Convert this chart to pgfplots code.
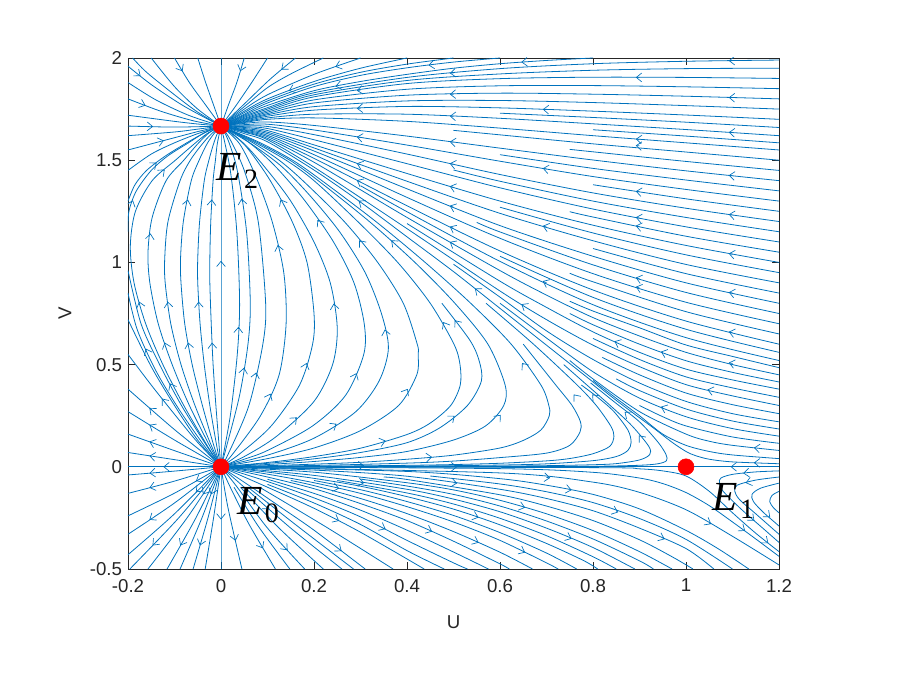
\documentclass[border=0pt]{standalone}
\usepackage{pgfplots}
\pgfplotsset{compat=1.18}
\usepackage{fontspec}
\setmainfont{Liberation Sans}
\newfontfamily\tnr{Liberation Serif}
\usetikzlibrary{arrows.meta}
\definecolor{mblue}{rgb}{0,0.447,0.741}
\pgfplotsset{sl/.style={mblue, line width=0.6pt, smooth, no markers}}
\newcommand{\SL}[1]{\addplot[sl] coordinates {#1};}
\begin{document}
\begin{tikzpicture}
\path[use as bounding box] (-96pt,-81.75pt) rectangle (594pt,426.75pt);
\begin{axis}[scale only axis, width=488.25pt, height=383.25pt, at={(0,0)}, anchor=south west,
  xmin=-0.2, xmax=1.2, ymin=-0.5, ymax=2,
  xtick={-0.2,0,0.2,0.4,0.6,0.8,1,1.2}, xticklabels={-0.2,0,0.2,0.4,0.6,0.8,1,1.2},
  ytick={-0.5,0,0.5,1,1.5,2}, yticklabels={-0.5,0,0.5,1,1.5,2},
  tick align=inside, major tick length=5pt,
  tick style={black!85, line width=0.5pt}, axis line style={black!85, line width=0.5pt},
  ticklabel style={font=\fontsize{14}{16}\selectfont, text=black!85},
  xticklabel style={yshift=-4pt}, yticklabel style={xshift=-1pt},
  label style={font=\fontsize{14}{16}\selectfont, text=black!85},
  xlabel={U}, ylabel={V},
  xlabel style={at={(axis description cs:0.5,-0.104)}, anchor=center},
  ylabel style={at={(axis description cs:-0.097,0.5)}, anchor=center},
  clip=true]
% E0 -> left edge
\SL{(0,0)(-0.2,0)}
\SL{(0,0)(-0.1,0.035)(-0.2,0.07)}
\SL{(0,0)(-0.1,0.079)(-0.2,0.16)}
\SL{(0,0)(-0.1,0.131)(-0.2,0.27)}
\SL{(0,0)(-0.1,0.182)(-0.2,0.38)}
\SL{(0,0)(-0.05,0.119)(-0.1,0.257)(-0.15,0.4)(-0.2,0.55)}
\SL{(0,0)(-0.05,0.13)(-0.1,0.3)(-0.15,0.49)(-0.2,0.72)}
\SL{(0,0)(-0.035,0.1)(-0.09,0.28)(-0.14,0.47)(-0.18,0.67)(-0.2,0.85)}
\SL{(0,0)(-0.03,0.1)(-0.085,0.3)(-0.132,0.5)(-0.172,0.7)(-0.2,0.96)}
% lens E0 -> E2 (U<0)
\SL{(0,0)(-0.03,0.105)(-0.08,0.3)(-0.125,0.5)(-0.162,0.7)(-0.187,0.9)(-0.195,1.08)(-0.184,1.25)(-0.148,1.4)(-0.098,1.5)(-0.06,1.575)(-0.03,1.63)(0,1.667)}
\SL{(0,0)(-0.025,0.105)(-0.068,0.3)(-0.105,0.5)(-0.135,0.7)(-0.153,0.9)(-0.157,1.05)(-0.148,1.22)(-0.118,1.4)(-0.08,1.5)(-0.05,1.58)(-0.025,1.635)(0,1.667)}
\SL{(0,0)(-0.02,0.1)(-0.056,0.3)(-0.086,0.5)(-0.108,0.7)(-0.12,0.9)(-0.121,1.02)(-0.114,1.2)(-0.088,1.4)(-0.066,1.5)(-0.04,1.58)(-0.02,1.63)(0,1.667)}
\SL{(0,0)(-0.015,0.1)(-0.04,0.3)(-0.062,0.5)(-0.078,0.7)(-0.086,0.9)(-0.087,1.02)(-0.081,1.2)(-0.064,1.4)(-0.047,1.5)(-0.03,1.58)(-0.015,1.63)(0,1.667)}
\SL{(0,0)(-0.009,0.1)(-0.024,0.3)(-0.036,0.5)(-0.045,0.7)(-0.05,0.9)(-0.05,1.02)(-0.046,1.2)(-0.036,1.4)(-0.026,1.5)(-0.016,1.58)(-0.008,1.63)(0,1.667)}
\SL{(0,0)(-0.004,0.1)(-0.011,0.3)(-0.017,0.5)(-0.021,0.7)(-0.024,0.9)(-0.024,1.02)(-0.022,1.2)(-0.017,1.4)(-0.012,1.5)(-0.008,1.58)(0,1.667)}
\SL{(0,0)(0,1.667)}
% left edge -> E2
\SL{(-0.2,1.15)(-0.198,1.25)(-0.182,1.35)(-0.15,1.45)(-0.115,1.52)(-0.07,1.585)(-0.035,1.635)(0,1.667)}
\SL{(-0.2,1.3)(-0.185,1.38)(-0.16,1.45)(-0.12,1.52)(-0.07,1.59)(-0.03,1.64)(0,1.667)}
\SL{(-0.2,1.45)(-0.15,1.53)(-0.1,1.585)(-0.05,1.63)(0,1.667)}
\SL{(-0.2,1.55)(-0.15,1.58)(-0.1,1.61)(-0.05,1.64)(0,1.667)}
\SL{(-0.2,1.62)(-0.1,1.638)(-0.05,1.652)(0,1.667)}
\SL{(-0.2,1.667)(-0.1,1.662)(0,1.667)}
\SL{(-0.2,1.72)(-0.1,1.69)(-0.05,1.677)(0,1.667)}
\SL{(-0.2,1.8)(-0.13,1.74)(-0.06,1.693)(0,1.667)}
\SL{(-0.2,1.88)(-0.14,1.795)(-0.07,1.72)(0,1.667)}
\SL{(-0.2,1.96)(-0.15,1.87)(-0.08,1.765)(0,1.667)}
% top edge -> E2
\SL{(-0.19,2)(-0.16,1.93)(-0.1,1.82)(-0.05,1.735)(0,1.667)}
\SL{(-0.15,2)(-0.1,1.86)(-0.05,1.75)(0,1.667)}
\SL{(-0.1,2)(-0.068,1.88)(-0.033,1.77)(0,1.667)}
\SL{(-0.05,2)(-0.033,1.88)(-0.016,1.77)(0,1.667)}
\SL{(0,2)(0,1.667)}
\SL{(0.05,2)(0.034,1.88)(0.016,1.77)(0,1.667)}
\SL{(0.1,2)(0.066,1.88)(0.03,1.76)(0,1.667)}
\SL{(0.16,2)(0.105,1.895)(0.05,1.775)(0,1.667)}
\SL{(0.22,2)(0.15,1.922)(0.1,1.855)(0.05,1.762)(0,1.667)}
\SL{(0.3,2)(0.2,1.92)(0.1,1.82)(0.05,1.75)(0,1.667)}
\SL{(0.4,2)(0.3,1.95)(0.2,1.885)(0.1,1.8)(0.05,1.74)(0,1.667)}
\SL{(0.5,2)(0.4,1.97)(0.3,1.93)(0.2,1.872)(0.1,1.79)(0.05,1.733)(0,1.667)}
\SL{(0.6,2)(0.5,1.98)(0.4,1.952)(0.3,1.915)(0.2,1.86)(0.1,1.78)(0.05,1.725)(0,1.667)}
\SL{(0.8,2)(0.7,1.988)(0.6,1.972)(0.5,1.95)(0.4,1.92)(0.3,1.885)(0.2,1.84)(0.1,1.768)(0.05,1.72)(0,1.667)}
% right edge -> E2
\SL{(1.2,1.99)(1.0,1.984)(0.8,1.972)(0.6,1.948)(0.4,1.905)(0.2,1.83)(0.1,1.757)(0.05,1.715)(0,1.667)}
\SL{(1.2,1.95)(1.0,1.948)(0.8,1.94)(0.6,1.922)(0.4,1.89)(0.2,1.82)(0.1,1.75)(0.05,1.71)(0,1.667)}
\SL{(1.2,1.9)(1.0,1.905)(0.8,1.906)(0.6,1.899)(0.4,1.875)(0.2,1.81)(0.1,1.742)(0.05,1.705)(0,1.667)}
\SL{(1.2,1.85)(1.0,1.859)(0.8,1.865)(0.6,1.864)(0.4,1.847)(0.2,1.795)(0.1,1.735)(0.05,1.701)(0,1.667)}
\SL{(1.2,1.8)(1.0,1.813)(0.8,1.823)(0.6,1.828)(0.4,1.818)(0.2,1.78)(0.1,1.728)(0.05,1.697)(0,1.667)}
\SL{(1.2,1.75)(1.0,1.767)(0.8,1.782)(0.6,1.792)(0.4,1.79)(0.2,1.762)(0.1,1.722)(0.05,1.694)(0,1.667)}
\SL{(1.2,1.7)(1.0,1.721)(0.8,1.74)(0.6,1.756)(0.4,1.763)(0.2,1.745)(0.1,1.715)(0.05,1.69)(0,1.667)}
\SL{(1.2,1.62)(1.0,1.65)(0.8,1.678)(0.6,1.705)(0.4,1.725)(0.2,1.725)(0.1,1.707)(0.05,1.687)(0,1.667)}
\SL{(1.2,1.55)(1.0,1.585)(0.8,1.62)(0.6,1.657)(0.4,1.69)(0.2,1.707)(0.1,1.70)(0.05,1.684)(0,1.667)}
\SL{(1.2,1.4)(1.0,1.448)(0.8,1.501)(0.6,1.559)(0.4,1.618)(0.2,1.67)(0.1,1.687)(0.05,1.68)(0,1.667)}
\SL{(1.2,1.3)(1.0,1.357)(0.8,1.42)(0.6,1.495)(0.4,1.574)(0.2,1.648)(0.1,1.676)(0.05,1.674)(0,1.667)}
\SL{(1.2,1.2)(1.0,1.265)(0.8,1.34)(0.6,1.43)(0.4,1.53)(0.2,1.625)(0.1,1.665)(0.05,1.668)(0,1.667)}
\SL{(1.2,1.1)(1.0,1.174)(0.8,1.261)(0.6,1.365)(0.4,1.483)(0.2,1.6)(0.1,1.655)(0.05,1.664)(0,1.667)}
\SL{(1.2,1.0)(1.0,1.083)(0.8,1.182)(0.6,1.3)(0.4,1.435)(0.2,1.575)(0.1,1.645)(0.05,1.66)(0,1.667)}
\SL{(1.2,0.9)(1.0,0.99)(0.8,1.106)(0.6,1.24)(0.4,1.397)(0.2,1.56)(0.1,1.637)(0.05,1.655)(0,1.667)}
\SL{(1.2,0.8)(1.0,0.9)(0.8,1.03)(0.6,1.18)(0.4,1.36)(0.2,1.545)(0.1,1.63)(0.05,1.65)(0,1.667)}
\SL{(1.2,0.7)(1.0,0.805)(0.8,0.945)(0.6,1.118)(0.4,1.318)(0.2,1.527)(0.1,1.622)(0.05,1.647)(0,1.667)}
\SL{(1.2,0.6)(1.0,0.713)(0.8,0.865)(0.6,1.056)(0.4,1.277)(0.2,1.509)(0.1,1.615)(0.05,1.643)(0,1.667)}
\SL{(1.2,0.52)(1.0,0.632)(0.8,0.793)(0.6,1.005)(0.4,1.248)(0.3,1.375)}
\SL{(1.2,0.45)(1.1,0.5)(1.0,0.56)(0.9,0.64)(0.8,0.73)(0.7,0.84)(0.6,0.96)(0.4,1.22)(0.2,1.49)(0.1,1.607)(0.05,1.64)(0,1.667)}
\SL{(1.2,0.38)(1.1,0.425)(1.0,0.478)(0.9,0.56)(0.8,0.66)(0.7,0.78)(0.6,0.908)(0.4,1.19)}
\SL{(1.2,0.3)(1.1,0.347)(1.0,0.402)(0.9,0.49)(0.8,0.595)(0.7,0.72)(0.6,0.86)(0.4,1.165)(0.2,1.466)(0.1,1.6)(0.05,1.637)(0,1.667)}
\SL{(1.2,0.22)(1.1,0.26)(1.0,0.32)(0.9,0.41)(0.8,0.525)(0.7,0.665)(0.6,0.83)(0.5,0.991)}
\SL{(1.2,0.15)(1.1,0.187)(1.0,0.245)(0.9,0.336)(0.8,0.465)(0.7,0.63)(0.6,0.8)}
\SL{(1.2,0.08)(1.1,0.105)(1.05,0.125)(1.0,0.16)(0.9,0.27)(0.8,0.43)(0.75,0.52)}
\SL{(1.2,0.04)(1.1,0.058)(1.05,0.075)(1.0,0.105)(0.95,0.16)(0.9,0.25)(0.85,0.335)(0.8,0.422)}
\SL{(1.2,0.015)(1.1,0.024)(1.05,0.037)(1.02,0.055)(1.0,0.075)(0.97,0.12)(0.93,0.19)(0.9,0.24)(0.85,0.325)(0.8,0.415)(0.7,0.595)(0.6,0.775)(0.5,0.955)(0.4,1.125)(0.3,1.295)(0.2,1.452)(0.1,1.59)(0.05,1.63)(0,1.667)}
% shorter streamline pieces entering from the right edge
\SL{(1.2,1.66)(1.0,1.686)(0.8,1.709)(0.6,1.73)}
\SL{(1.2,1.585)(1.0,1.618)(0.8,1.649)}
\SL{(1.2,1.5)(1.0,1.54)(0.8,1.58)(0.6,1.624)(0.5,1.646)}
\SL{(1.2,1.45)(1.0,1.494)(0.8,1.541)(0.75,1.553)}
\SL{(1.2,1.35)(1.0,1.403)(0.8,1.46)(0.6,1.527)}
\SL{(1.2,1.25)(1.0,1.311)(0.8,1.38)}
\SL{(1.2,1.15)(1.0,1.22)(0.8,1.3)(0.6,1.397)(0.5,1.452)}
\SL{(1.2,1.05)(1.0,1.128)(0.8,1.222)(0.75,1.248)}
\SL{(1.2,0.95)(1.0,1.037)(0.8,1.144)(0.6,1.27)}
\SL{(1.2,0.85)(1.0,0.945)(0.8,1.068)}
\SL{(1.2,0.75)(1.0,0.853)(0.8,0.988)(0.6,1.149)(0.55,1.196)}
\SL{(1.2,0.65)(1.0,0.759)(0.8,0.905)(0.75,0.947)}
\SL{(1.2,0.56)(1.0,0.673)(0.8,0.829)(0.6,1.03)}
\SL{(1.2,0.485)(1.1,0.54)(1.0,0.596)(0.9,0.68)(0.8,0.762)(0.75,0.81)}
\SL{(1.2,0.415)(1.1,0.462)(1.0,0.519)(0.9,0.6)(0.8,0.695)(0.75,0.75)}
\SL{(1.2,0.34)(1.1,0.386)(1.0,0.44)(0.9,0.525)(0.8,0.628)}
\SL{(1.2,0.26)(1.1,0.304)(1.0,0.361)(0.9,0.45)(0.82,0.535)}
\SL{(1.2,0.185)(1.1,0.224)(1.0,0.283)(0.9,0.373)(0.85,0.43)}
\SL{(1.2,0.115)(1.1,0.146)(1.0,0.2)(0.95,0.245)(0.9,0.3)}
% S-curves E0 -> E2 (U>0)
\SL{(0,0)(0.6,0.0009)(0.8,0.0025)(0.9,0.0075)(0.94,0.015)(0.958,0.03)(0.957,0.06)(0.94,0.12)(0.9,0.22)(0.85,0.31)(0.795,0.41)}
\SL{(0,0)(0.4,0.0014)(0.6,0.0034)(0.7,0.0056)(0.8,0.0101)(0.85,0.0155)(0.9,0.0335)(0.922,0.06)(0.92,0.1)(0.884,0.2)(0.837,0.3)(0.787,0.4)(0.737,0.5)}
\SL{(0,0)(0.4,0.0036)(0.6,0.0086)(0.7,0.0145)(0.8,0.03)(0.85,0.05)(0.875,0.08)(0.882,0.12)(0.875,0.18)(0.845,0.27)(0.81,0.34)(0.775,0.4)}
\SL{(0,0)(0.2,0.0026)(0.4,0.0072)(0.5,0.011)(0.6,0.0173)(0.7,0.029)(0.75,0.0405)(0.8,0.064)(0.836,0.1)(0.845,0.15)(0.838,0.2)(0.807,0.3)(0.766,0.4)(0.672,0.6)(0.57,0.8)}
\SL{(0,0)(0.2,0.0065)(0.4,0.018)(0.5,0.028)(0.6,0.045)(0.7,0.067)(0.75,0.105)(0.772,0.17)(0.773,0.22)(0.755,0.3)(0.72,0.4)(0.65,0.6)}
\SL{(0,0)(0.1,0.0056)(0.2,0.013)(0.3,0.022)(0.4,0.037)(0.5,0.057)(0.6,0.092)(0.65,0.129)(0.688,0.18)(0.706,0.25)(0.705,0.3)(0.688,0.4)(0.624,0.6)(0.537,0.8)(0.439,1.0)(0.333,1.2)(0.217,1.4)(0.154,1.5)(0.08,1.59)(0,1.667)}
\SL{(0,0)(0.1,0.0113)(0.2,0.026)(0.3,0.046)(0.4,0.075)(0.5,0.131)(0.569,0.2)(0.608,0.3)(0.611,0.4)(0.574,0.6)(0.503,0.8)(0.417,1.0)(0.319,1.2)(0.209,1.4)(0.148,1.5)(0.075,1.59)(0,1.667)}
\SL{(0,0)(0.1,0.017)(0.2,0.039)(0.3,0.07)(0.4,0.118)(0.47,0.19)(0.53,0.3)(0.56,0.42)(0.555,0.52)(0.535,0.62)(0.475,0.8)}
\SL{(0,0)(0.1,0.021)(0.2,0.05)(0.3,0.091)(0.4,0.158)(0.45,0.214)(0.494,0.3)(0.5145,0.4)(0.514,0.5)(0.501,0.6)(0.45,0.8)(0.38,1.0)(0.294,1.2)(0.2,1.4)(0.14,1.5)(0.07,1.59)(0,1.667)}
\SL{(0,0)(0.1,0.04)(0.2,0.092)(0.3,0.177)(0.382,0.3)(0.421,0.45)(0.424,0.55)(0.422,0.6)(0.392,0.8)(0.337,1.0)(0.265,1.2)(0.176,1.4)(0.125,1.5)(0.065,1.59)(0,1.667)}
\SL{(0,0)(0.1,0.057)(0.2,0.14)(0.29,0.27)(0.34,0.42)(0.36,0.58)(0.345,0.75)(0.31,0.95)(0.255,1.15)(0.19,1.33)(0.13,1.47)(0.065,1.58)(0,1.667)}
\SL{(0,0)(0.05,0.037)(0.1,0.08)(0.197,0.2)(0.268,0.35)(0.307,0.55)(0.308,0.7)(0.286,0.9)(0.242,1.1)(0.181,1.3)(0.125,1.45)(0.08,1.55)(0.04,1.62)(0,1.667)}
\SL{(0,0)(0.05,0.05)(0.12,0.15)(0.2,0.32)(0.24,0.5)(0.25,0.68)(0.235,0.9)(0.2,1.1)(0.15,1.3)(0.1,1.45)(0.05,1.58)(0,1.667)}
\SL{(0,0)(0.04,0.063)(0.108,0.2)(0.169,0.4)(0.197,0.6)(0.2,0.75)(0.185,1.0)(0.153,1.2)(0.106,1.4)(0.06,1.55)(0.03,1.62)(0,1.667)}
\SL{(0,0)(0.025,0.062)(0.085,0.25)(0.125,0.45)(0.14,0.7)(0.135,0.95)(0.11,1.2)(0.075,1.42)(0.04,1.58)(0,1.667)}
\SL{(0,0)(0.015,0.06)(0.06,0.3)(0.09,0.6)(0.096,0.8)(0.08,1.2)(0.05,1.45)(0.02,1.6)(0,1.667)}
\SL{(0,0)(0.012,0.1)(0.04,0.35)(0.058,0.6)(0.063,0.8)(0.055,1.15)(0.035,1.45)(0.015,1.6)(0,1.667)}
\SL{(0,0)(0.02,0.25)(0.035,0.55)(0.04,0.8)(0.034,1.15)(0.02,1.45)(0,1.667)}
% along V=0
\SL{(0,0)(0.5,0)(1,0)}
\SL{(1.2,0)(1,0)}
% E0 -> lower right
\SL{(0,0)(0.015,-0.2)(0.045,-0.5)}
\SL{(0,0)(0.02,-0.1)(0.06,-0.28)(0.117,-0.5)}
\SL{(0,0)(0.035,-0.1)(0.1,-0.3)(0.18,-0.5)}
\SL{(0,0)(0.05,-0.1)(0.15,-0.3)(0.26,-0.5)}
\SL{(0,0)(0.066,-0.1)(0.13,-0.2)(0.2,-0.31)(0.31,-0.5)}
\SL{(0,0)(0.1,-0.1)(0.2,-0.203)(0.3,-0.32)(0.437,-0.5)}
\SL{(0,0)(0.1,-0.072)(0.2,-0.152)(0.3,-0.245)(0.4,-0.36)(0.5,-0.47)(0.53,-0.5)}
\SL{(0,0)(0.1,-0.05)(0.2,-0.107)(0.3,-0.18)(0.4,-0.263)(0.5,-0.364)(0.6,-0.475)(0.62,-0.5)}
\SL{(0,0)(0.1,-0.036)(0.2,-0.078)(0.3,-0.13)(0.4,-0.195)(0.5,-0.27)(0.6,-0.36)(0.7,-0.47)(0.725,-0.5)}
\SL{(0,0)(0.1,-0.026)(0.2,-0.0565)(0.3,-0.095)(0.4,-0.146)(0.5,-0.207)(0.6,-0.284)(0.7,-0.375)(0.78,-0.459)(0.81,-0.5)}
\SL{(0,0)(0.2,-0.042)(0.4,-0.11)(0.5,-0.158)(0.6,-0.22)(0.7,-0.3)(0.8,-0.395)(0.89,-0.5)}
\SL{(0,0)(0.2,-0.0264)(0.4,-0.078)(0.5,-0.113)(0.6,-0.164)(0.7,-0.23)(0.8,-0.312)(0.9,-0.415)(0.97,-0.5)}
\SL{(0,0)(0.2,-0.016)(0.4,-0.046)(0.6,-0.11)(0.7,-0.155)(0.8,-0.215)(0.9,-0.3)(1.0,-0.4)(1.06,-0.5)}
\SL{(0,0)(0.4,-0.0227)(0.6,-0.058)(0.7,-0.09)(0.8,-0.135)(0.9,-0.206)(1.0,-0.311)(1.07,-0.402)(1.135,-0.5)}
\SL{(0,0)(0.6,-0.03)(0.8,-0.075)(0.9,-0.125)(1.0,-0.21)(1.1,-0.34)(1.2,-0.48)}
\SL{(0,0)(0.6,-0.009)(0.8,-0.027)(0.9,-0.055)(0.95,-0.082)(1.0,-0.126)(1.05,-0.19)(1.1,-0.27)(1.15,-0.353)(1.2,-0.438)}
\SL{(0,0)(0.8,-0.004)(0.9,-0.01)(0.95,-0.02)(1.0,-0.045)(1.05,-0.12)(1.1,-0.225)(1.15,-0.325)(1.2,-0.415)}
% shorter pieces in the lower right
\SL{(0.028,-0.1)(0.08,-0.29)(0.148,-0.5)}
\SL{(0.042,-0.1)(0.125,-0.3)(0.22,-0.5)}
\SL{(0.058,-0.1)(0.17,-0.3)(0.285,-0.5)}
\SL{(0.083,-0.1)(0.23,-0.3)(0.37,-0.5)}
\SL{(0.1,-0.086)(0.2,-0.177)(0.3,-0.282)(0.4,-0.41)(0.48,-0.5)}
\SL{(0.1,-0.061)(0.2,-0.13)(0.3,-0.212)(0.4,-0.31)(0.5,-0.417)(0.575,-0.5)}
\SL{(0.15,-0.067)(0.2,-0.092)(0.3,-0.155)(0.4,-0.229)(0.5,-0.317)(0.6,-0.418)(0.67,-0.5)}
\SL{(0.2,-0.067)(0.3,-0.112)(0.4,-0.17)(0.5,-0.238)(0.6,-0.322)(0.7,-0.422)(0.765,-0.5)}
\SL{(0.25,-0.067)(0.4,-0.128)(0.5,-0.182)(0.6,-0.252)(0.7,-0.337)(0.8,-0.44)(0.85,-0.5)}
\SL{(0.3,-0.06)(0.4,-0.094)(0.5,-0.135)(0.6,-0.192)(0.7,-0.265)(0.8,-0.353)(0.9,-0.46)(0.93,-0.5)}
\SL{(0.35,-0.05)(0.4,-0.062)(0.6,-0.137)(0.7,-0.192)(0.8,-0.263)(0.9,-0.357)(0.97,-0.44)(1.015,-0.5)}
\SL{(0.45,-0.045)(0.6,-0.084)(0.7,-0.122)(0.8,-0.175)(0.9,-0.253)(1.0,-0.355)(1.1,-0.5)}
% right edge, below E1
\SL{(1.2,-0.02)(1.15,-0.025)(1.1,-0.037)(1.075,-0.055)(1.072,-0.08)(1.08,-0.12)(1.12,-0.21)(1.17,-0.31)(1.2,-0.37)}
\SL{(1.2,-0.05)(1.15,-0.065)(1.11,-0.09)(1.105,-0.12)(1.115,-0.16)(1.15,-0.23)(1.19,-0.31)(1.2,-0.33)}
\SL{(1.2,-0.08)(1.16,-0.105)(1.142,-0.135)(1.145,-0.17)(1.165,-0.22)(1.19,-0.27)(1.2,-0.29)}
\SL{(1.2,-0.12)(1.185,-0.14)(1.18,-0.17)(1.188,-0.2)(1.2,-0.225)}
% E0 -> lower left
\SL{(0,0)(-0.1,-0.021)(-0.2,-0.04)}
\SL{(0,0)(-0.1,-0.07)(-0.2,-0.13)}
\SL{(0,0)(-0.1,-0.129)(-0.2,-0.24)}
\SL{(0,0)(-0.1,-0.177)(-0.2,-0.33)}
\SL{(0,0)(-0.1,-0.23)(-0.2,-0.43)}
\SL{(0,0)(-0.091,-0.25)(-0.196,-0.5)}
\SL{(0,0)(-0.073,-0.25)(-0.157,-0.5)}
\SL{(0,0)(-0.054,-0.25)(-0.116,-0.5)}
\SL{(0,0)(-0.041,-0.25)(-0.088,-0.5)}
\SL{(0,0)(-0.028,-0.25)(-0.06,-0.5)}
\SL{(0,0)(-0.016,-0.25)(-0.034,-0.5)}
\SL{(0,0)(0,-0.5)}
% arrowheads along the streamlines (position x y, direction u v)
\addplot[mblue, line width=0.5pt, -{Straight Barb[length=4pt,width=6.5pt]},
  quiver={u=\thisrow{u}, v=\thisrow{v}, scale arrows=0.04}]
  table[row sep=\\] {
x y u v\\
-0.12 0 -0.1 0\\
-0.15 0.052 -0.1 0.035\\
-0.15 0.12 -0.1 0.081\\
-0.15 0.2 -0.1 0.139\\
-0.15 0.28 -0.1 0.198\\
-0.125 0.328 -0.05 0.143\\
-0.16 0.57 -0.04 0.2\\
-0.108 0.4 -0.047 0.2\\
-0.175 0.8 -0.025 0.2\\
-0.123 1.45 0.05 0.1\\
-0.12 0.6 -0.03 0.2\\
-0.152 1.135 0.009 0.17\\
-0.114 0.8 -0.012 0.2\\
-0.07 0.6 -0.016 0.2\\
-0.072 1.3 0.017 0.2\\
-0.048 0.8 -0.005 0.2\\
-0.019 0.6 -0.004 0.2\\
-0.02 1.3 0.005 0.2\\
0 1.0 0 0.2\\
-0.19 1.3 0.016 0.1\\
-0.14 1.485 0.04 0.07\\
-0.125 1.595 0.05 0.03\\
-0.15 1.665 0.1 -0.005\\
-0.165 1.77 0.07 -0.06\\
-0.175 1.915 0.05 -0.09\\
-0.084 1.94 0.032 -0.12\\
0.042 1.94 -0.016 -0.12\\
0.132 1.947 -0.055 -0.105\\
0.25 1.96 -0.1 -0.08\\
0.15 1.843 -0.1 -0.085\\
0.45 1.966 -0.1 -0.028\\
0.65 1.98 -0.1 -0.016\\
0.25 1.863 -0.1 -0.045\\
1.1 1.987 -0.2 -0.006\\
0.5 1.927 -0.2 -0.043\\
0.9 1.905 -0.2 0.001\\
0.3 1.843 -0.2 -0.065\\
1.1 1.806 -0.2 0.013\\
0.5 1.823 -0.2 -0.01\\
0.7 1.748 -0.2 0.016\\
0.3 1.754 -0.2 -0.018\\
1.1 1.635 -0.2 0.03\\
0.5 1.715 -0.2 0.02\\
0.9 1.602 -0.2 0.035\\
1.1 1.424 -0.2 0.048\\
0.5 1.588 -0.2 0.059\\
0.7 1.457 -0.2 0.075\\
0.3 1.611 -0.2 0.074\\
1.1 1.232 -0.2 0.065\\
0.5 1.48 -0.2 0.1\\
0.9 1.217 -0.2 0.087\\
1.1 1.04 -0.2 0.083\\
0.5 1.367 -0.2 0.135\\
0.7 1.173 -0.2 0.134\\
0.3 1.478 -0.2 0.163\\
1.1 0.85 -0.2 0.1\\
0.5 1.27 -0.2 0.18\\
0.9 0.875 -0.2 0.14\\
1.1 0.656 -0.2 0.113\\
0.5 1.166 -0.2 0.221\\
0.3 1.393 -0.2 0.232\\
0.7 0.9 -0.2 0.212\\
1.1 0.505 -0.2 0.11\\
0.5 1.09 -0.2 0.26\\
0.85 0.61 -0.1 0.1\\
1.05 0.375 -0.1 0.055\\
0.65 0.79 -0.1 0.14\\
0.95 0.29 -0.1 0.091\\
1.15 0.092 -0.1 0.025\\
1.15 0.02 -0.1 0.009\\
0.55 0.865 -0.1 0.18\\
0.3 1.295 -0.1 0.16\\
0.9 1.57 -0.2 0.04\\
0.9 1.345 -0.2 0.069\\
0.9 1.175 -0.2 0.094\\
0.9 0.92 -0.2 0.135\\
0.95 0.56 -0.1 0.081\\
0.87 0.265 -0.05 0.09\\
0.9 0.15 -0.036 0.1\\
0.3 0.005 0.2 0.0046\\
0.8 0.35 -0.041 0.1\\
0.76 0.35 -0.035 0.1\\
0.65 0.5 -0.064 0.2\\
0.45 0.047 0.1 0.02\\
0.6 0.25 0.039 0.1\\
0.37 1.1 -0.098 0.2\\
0.5 0.245 0.06 0.11\\
0.505 0.71 -0.06 0.18\\
0.35 0.125 0.1 0.067\\
0.48 0.7 -0.051 0.2\\
0.4 0.375 0.039 0.15\\
0.3 1.1 -0.072 0.2\\
0.245 0.205 0.09 0.13\\
0.353 0.665 -0.015 0.17\\
0.29 0.45 0.039 0.2\\
0.21 1.2 -0.061 0.2\\
0.16 0.235 0.08 0.17\\
0.243 0.79 -0.015 0.22\\
0.183 0.5 0.028 0.2\\
0.13 1.3 -0.047 0.2\\
0.105 0.35 0.04 0.2\\
0.123 1.075 -0.025 0.25\\
0.075 0.45 0.03 0.3\\
0.049 0.475 0.018 0.25\\
0.045 1.3 -0.02 0.3\\
0.0375 0.675 0.005 0.25\\
0.5 0 0.2 0\\
1.1 0 -0.1 0\\
0.03 -0.35 0.03 -0.3\\
0.088 -0.39 0.057 -0.22\\
0.14 -0.4 0.08 -0.2\\
0.1 -0.2 0.1 -0.2\\
0.255 -0.405 0.11 -0.19\\
0.25 -0.26 0.1 -0.117\\
0.35 -0.3 0.1 -0.115\\
0.45 -0.313 0.1 -0.101\\
0.25 -0.104 0.1 -0.052\\
0.65 -0.415 0.1 -0.11\\
0.55 -0.245 0.1 -0.077\\
0.3 -0.076 0.2 -0.068\\
0.75 -0.348 0.1 -0.095\\
0.65 -0.197 0.1 -0.066\\
0.5 -0.078 0.2 -0.064\\
0.95 -0.35 0.1 -0.1\\
0.75 -0.112 0.1 -0.045\\
0.7 -0.052 0.2 -0.045\\
1.05 -0.275 0.1 -0.13\\
1.125 -0.31 0.05 -0.083\\
1.175 -0.37 0.05 -0.09\\
1.125 -0.031 -0.05 -0.012\\
1.145 -0.26 0.05 -0.1\\
1.13 -0.078 -0.04 -0.025\\
1.18 -0.245 0.025 -0.05\\
0.85 -0.219 0.1 -0.088\\
0.55 -0.367 0.1 -0.101\\
-0.15 -0.03 -0.1 -0.019\\
-0.15 -0.1 -0.1 -0.06\\
-0.05 -0.065 -0.1 -0.129\\
-0.15 -0.253 -0.1 -0.153\\
-0.05 -0.115 -0.1 -0.23\\
-0.143 -0.375 -0.105 -0.25\\
-0.036 -0.125 -0.073 -0.25\\
-0.085 -0.375 -0.062 -0.25\\
-0.02 -0.125 -0.041 -0.25\\
-0.044 -0.375 -0.032 -0.25\\
0 -0.25 0 -0.2\\
};
% equilibria
\addplot[only marks, mark=*, mark size=6pt, color=red, fill=red] coordinates {(0,0)(1,0)(0,1.667)};
\node[anchor=base west, inner sep=0pt] at (axis cs:-0.011,1.403) {\tnr\fontsize{31}{31}\selectfont\itshape E\hspace{2pt}\raisebox{-6pt}{\upshape\fontsize{21}{21}\selectfont 2}};
\node[anchor=base west, inner sep=0pt] at (axis cs:0.034,-0.231) {\tnr\fontsize{31}{31}\selectfont\itshape E\hspace{2pt}\raisebox{-6pt}{\upshape\fontsize{21}{21}\selectfont 0}};
\node[anchor=base west, inner sep=0pt] at (axis cs:1.056,-0.216) {\tnr\fontsize{31}{31}\selectfont\itshape E\hspace{2pt}\raisebox{-6pt}{\upshape\fontsize{21}{21}\selectfont 1}};
\end{axis}
\end{tikzpicture}
\end{document}
